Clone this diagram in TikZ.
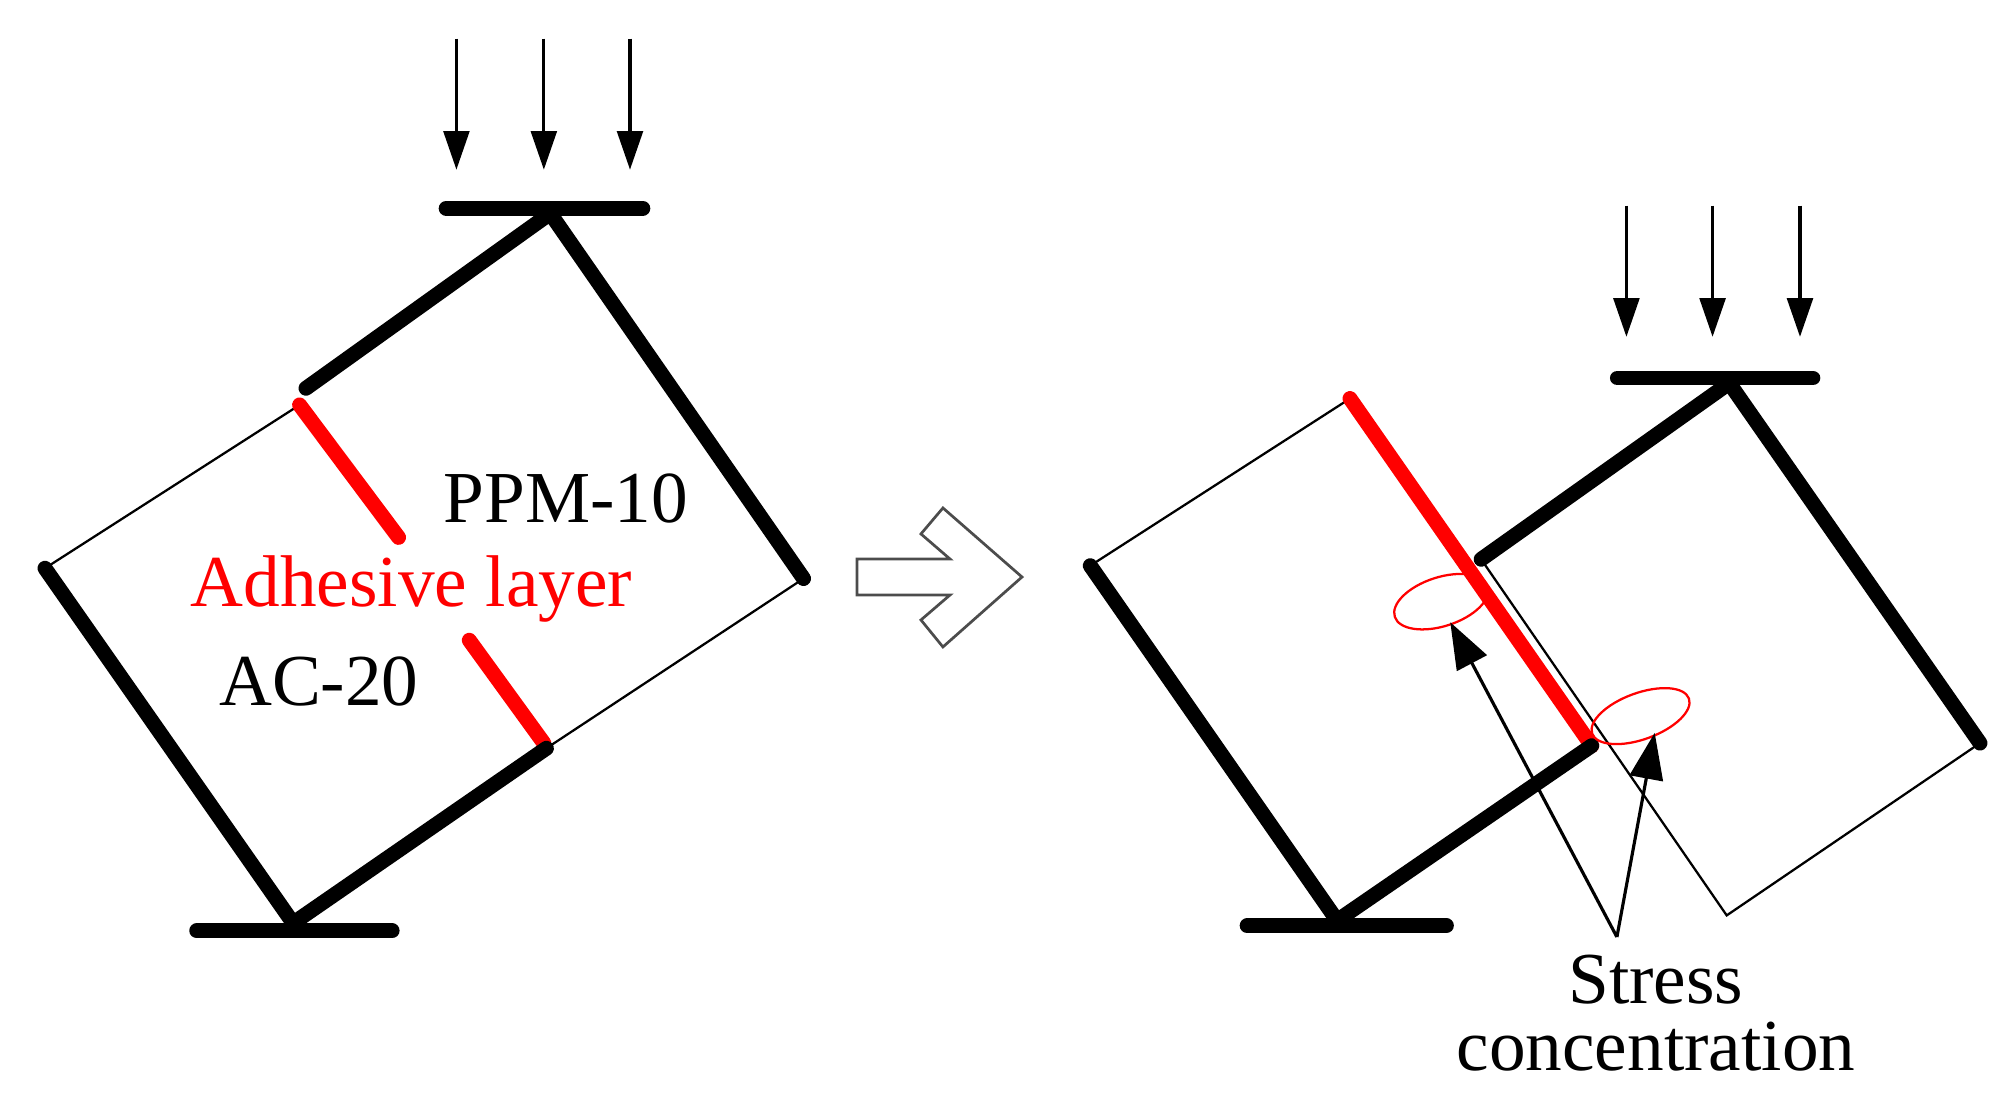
\documentclass[tikz,border=0pt]{standalone}
\usepackage{fontspec}
\setmainfont{Liberation Serif}
\usetikzlibrary{arrows.meta,shapes.geometric}
\begin{document}
\begin{tikzpicture}[x=0.01cm,y=-0.01cm,
  thickl/.style={line width=3.3pt,line cap=round},
  thinl/.style={line width=0.5pt},
  redl/.style={line width=3.3pt,red,line cap=round},
  load/.style={-{Triangle[length=0.3cm,width=0.2cm]},line width=0.7pt},
  lbl/.style={font=\fontsize{16.2}{18}\selectfont},
  sarrow/.style={-{Triangle[length=0.36cm,width=0.26cm]},line width=0.7pt},
  ell/.style={red,line width=0.5pt}]
\useasboundingbox (0,0) rectangle (1568,862);
% left figure
\foreach \x in {355,423,490} \draw[load] (\x,30) -- (\x,132);
\coordinate (LA) at (428,166);
\coordinate (LB) at (238,302);
\coordinate (LR) at (625,450);
\coordinate (LD) at (425,582);
\coordinate (LC) at (35,442);
\coordinate (LE) at (228,718);
\coordinate (LR1) at (233,315);
\coordinate (LR2) at (310,418);
\coordinate (LR3) at (365,498);
\coordinate (LR4) at (423,578);
\draw[thickl] (347,162) -- (500,162);
\draw[thickl] (LB) -- (LA) -- (LR);
\draw[thinl] (LR) -- (LD);
\draw[thinl] (LR1) -- (LC);
\draw[redl] (LR1) -- (LR2);
\draw[redl] (LR3) -- (LR4);
\draw[thickl] (LC) -- (LE) -- (LD);
\draw[thickl] (153,724) -- (305,724);
\node[lbl] (ppm) at (440,388) {PPM-10};
\node[lbl,red] (adh) at (320,458) {Adhesive layer};
\node[lbl] (ac) at (248,530) {AC-20};
% hollow arrow
\draw[line width=0.6pt,black!70] (666.6,434.8) -- (738.9,434.8) -- (716.3,415.3) -- (733.4,395.1) -- (794.9,448.8) -- (733.4,503.2) -- (716.3,482.2) -- (738.9,462.8) -- (666.6,462.8) -- cycle;
% right figure
\foreach \x in {1265,1332,1400} \draw[load] (\x,160) -- (\x,262);
\coordinate (RA) at (1345,298);
\coordinate (RB) at (1152,435);
\coordinate (RR) at (1540,578);
\coordinate (RD) at (1343,712);
\coordinate (RT) at (1050,310);
\coordinate (RL) at (848,440);
\coordinate (RE) at (1040,716);
\coordinate (RF) at (1238,580);
\draw[thickl] (1258,294) -- (1410,294);
\draw[thickl] (RB) -- (RA) -- (RR);
\draw[thinl] (RR) -- (RD) -- (RB);
\draw[thinl] (RL) -- (RT);
\draw[redl] (RT) -- (RF);
\draw[thickl] (RL) -- (RE) -- (RF);
\draw[thickl] (970,720) -- (1125,720);
\node[ell,draw,ellipse,minimum width=0.76cm,minimum height=0.38cm,rotate=18] (e1) at (1121,468) {};
\node[ell,draw,ellipse,minimum width=0.8cm,minimum height=0.36cm,rotate=20] (e2) at (1276,557) {};
\coordinate (S) at (1257.6,728.8);
\draw[sarrow] (S) -- (1128,484);
\draw[sarrow] (S) -- (1287,570);
\node[lbl,align=center,inner sep=0pt] (st) at (1288,788) {Stress\\[-3pt]concentration};
\end{tikzpicture}
\end{document}
